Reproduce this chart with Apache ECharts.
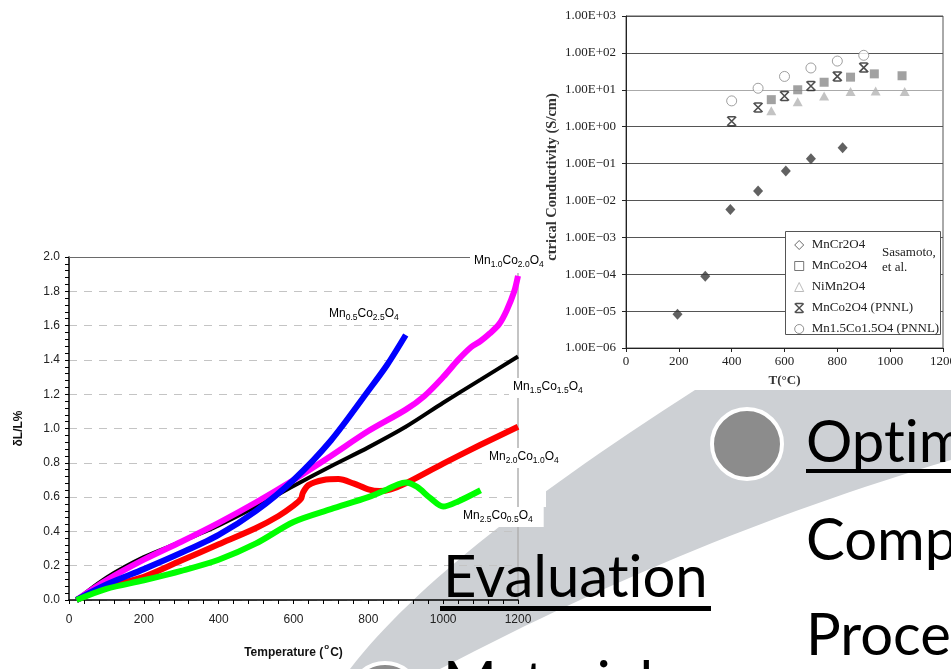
<!DOCTYPE html>
<html>
<head>
<meta charset="utf-8">
<script src="https://cdn.jsdelivr.net/npm/echarts@6/dist/echarts.min.js"></script>
<style>
  html, body { margin: 0; padding: 0; background: #fff; }
  #main { width: 951px; height: 669px; }
</style>
</head>
<body>
<div id="main"></div>
<script>
// left chart: thermal expansion dL/L (%) against temperature
const tBlack = [20, 100, 200, 300, 400, 500, 600, 700, 800, 900, 1000, 1100, 1200];
const vBlack = [0, 0.13, 0.25, 0.34, 0.435, 0.545, 0.665, 0.78, 0.89, 1.01, 1.15, 1.285, 1.42];

const tMagenta = [20, 100, 200, 300, 400, 500, 600, 700, 800, 900, 950, 1000, 1040, 1075, 1100, 1125, 1150, 1170, 1190, 1200];
const vMagenta = [0, 0.115, 0.235, 0.34, 0.45, 0.57, 0.70, 0.84, 0.985, 1.11, 1.19, 1.30, 1.40, 1.475, 1.51, 1.555, 1.61, 1.69, 1.80, 1.89];

const tBlue = [20, 100, 200, 300, 400, 500, 600, 700, 800, 850, 900];
const vBlue = [0, 0.09, 0.18, 0.275, 0.38, 0.52, 0.70, 0.93, 1.22, 1.37, 1.545];

const tRed = [20, 100, 200, 300, 400, 500, 560, 600, 620, 625, 640, 680, 720, 760, 800, 830, 860, 900, 1000, 1100, 1200];
const vRed = [0, 0.075, 0.135, 0.23, 0.325, 0.42, 0.49, 0.55, 0.59, 0.625, 0.67, 0.70, 0.705, 0.68, 0.645, 0.635, 0.645, 0.68, 0.795, 0.905, 1.01];

const tGreen = [20, 100, 200, 300, 400, 500, 600, 700, 800, 850, 880, 900, 930, 965, 1000, 1040, 1100];
const vGreen = [0, 0.065, 0.115, 0.17, 0.235, 0.33, 0.455, 0.53, 0.60, 0.645, 0.675, 0.685, 0.66, 0.595, 0.545, 0.575, 0.64];

// right chart: electrical conductivity (S/cm), log scale
const tMnCr = [195, 300, 395, 500, 605, 700, 820];
const sMnCr = [8.2e-6, 8.8e-5, 5.7e-3, 0.018, 0.063, 0.136, 0.27];
const tMnCo = [550, 650, 750, 850, 940, 1045];
const sMnCo = [5.4, 10, 16, 22, 27, 24];
const tNiMn = [550, 650, 750, 850, 945, 1055];
const sNiMn = [2.7, 4.7, 6.8, 9.0, 9.2, 9.0];
const tMnCoP = [400, 500, 600, 700, 800, 900];
const sMnCoP = [1.4, 3.3, 6.8, 12.7, 23, 40];
const tMn15 = [400, 500, 600, 700, 800, 900];
const sMn15 = [5.0, 11, 23, 39, 60, 86];

const sans = 'Liberation Sans, Arial, sans-serif';
const serif = 'Liberation Serif, Times New Roman, serif';
const slide = 'Lato, Carlito, sans-serif';
const starPath = 'path://M0,0L10,10M10,0L0,10M1,0L9,0M1,10L9,10';
const ZWNJ = '\u200C'; // keeps Lato from joining "ti"

function pairs(xs, ys) {
  return xs.map((x, i) => [x, ys[i]]);
}

// gray arc band behind the charts (quadratic edges)
function quad(p0, c, p2, n) {
  const pts = [];
  for (let i = 0; i <= n; i++) {
    const t = i / n, u = 1 - t;
    pts.push([u * u * p0[0] + 2 * u * t * c[0] + t * t * p2[0],
              u * u * p0[1] + 2 * u * t * c[1] + t * t * p2[1]]);
  }
  return pts;
}
const bandPts = [[695, 390], [951, 390]]
  .concat(quad([951, 460], [694.5, 535.5], [440, 669], 30))
  .concat([[440, 672], [350, 672]])
  .concat(quad([350, 669], [437.5, 554.5], [695, 390], 30));

const richFormula = {
  m: { fontFamily: sans, fontSize: 12, lineHeight: 14, verticalAlign: 'top', color: '#222' },
  s: { fontFamily: sans, fontSize: 8.5, lineHeight: 8, verticalAlign: 'bottom', padding: [8, 0, 0, 0], color: '#222' }
};
function formula(x, y, text, pad) {
  return {
    type: 'text', x: x, y: y, z: 50,
    style: {
      text: text, rich: richFormula, verticalAlign: 'middle',
      backgroundColor: '#fff', padding: pad || [3, 4, 3, 4]
    }
  };
}
function slideText(x, y, text) {
  return {
    type: 'text', x: x, y: y, z: 100,
    style: { text: text, fontFamily: slide, fontSize: 58, fill: '#000', verticalAlign: 'middle' }
  };
}

const lineSeries = (name, xs, ys, color, width) => ({
  name: name, type: 'line', xAxisIndex: 0, yAxisIndex: 0,
  data: pairs(xs, ys), showSymbol: false, smooth: 0.3,
  lineStyle: { color: color, width: width }, itemStyle: { color: color },
  silent: true
});

const chart = echarts.init(document.getElementById('main'));
chart.setOption({
  animation: false,
  backgroundColor: '#fff',
  grid: [
    { left: 69, right: 433, top: 257, bottom: 69, outerBoundsMode: 'none' },
    { left: 626, right: 8, top: 16, bottom: 321, show: true, borderColor: '#555', borderWidth: 1, outerBoundsMode: 'none' }
  ],
  xAxis: [
    {
      gridIndex: 0, type: 'value', min: 0, max: 1200, interval: 200,
      name: '{a|Temperature (}{o|o}{a|C)}', nameLocation: 'middle', nameGap: 43, nameMoveOverlap: false,
      nameTextStyle: {
        rich: {
          a: { fontFamily: sans, fontSize: 12, fontWeight: 'bold', lineHeight: 16, verticalAlign: 'bottom', color: '#111' },
          o: { fontFamily: sans, fontSize: 8, fontWeight: 'bold', lineHeight: 8, verticalAlign: 'top', padding: [0, 1, 8, 1], color: '#111' }
        }
      },
      axisLine: { onZero: false, lineStyle: { color: '#000', width: 1.5 } },
      axisTick: { show: true, length: 4, lineStyle: { color: '#000' } },
      minorTick: { show: true, splitNumber: 5, length: 4, lineStyle: { color: '#000' } },
      axisLabel: { margin: 14, fontFamily: sans, fontSize: 12, color: '#222', formatter: v => String(v) },
      splitLine: { show: false }
    },
    {
      gridIndex: 0, type: 'value', position: 'top', min: 0, max: 1200,
      axisLine: { show: true, onZero: false, lineStyle: { color: '#6a6a6a', width: 1 } },
      axisTick: { show: false }, axisLabel: { show: false }, splitLine: { show: false }
    },
    {
      gridIndex: 1, type: 'value', min: 0, max: 1200, interval: 200,
      name: 'T(°C)', nameLocation: 'middle', nameGap: 26, nameMoveOverlap: false,
      nameTextStyle: { fontFamily: serif, fontSize: 13, fontWeight: 'bold', color: '#333' },
      axisLine: { onZero: false, lineStyle: { color: '#222', width: 1 } },
      axisTick: { show: true, length: 4, lineStyle: { color: '#222' } },
      axisLabel: { margin: 7, fontFamily: serif, fontSize: 13, color: '#222', formatter: v => String(v) },
      splitLine: { show: false }
    }
  ],
  yAxis: [
    {
      gridIndex: 0, type: 'value', min: 0, max: 2, interval: 0.2,
      name: 'δL/L%', nameLocation: 'middle', nameGap: 44, nameMoveOverlap: false,
      nameTextStyle: { fontFamily: sans, fontSize: 12, fontWeight: 'bold', color: '#111' },
      axisLine: { show: true, onZero: false, lineStyle: { color: '#000', width: 1.5 } },
      axisTick: { show: true, length: 4, lineStyle: { color: '#000' } },
      minorTick: { show: true, splitNumber: 5, length: 4, lineStyle: { color: '#000' } },
      axisLabel: { margin: 9, fontFamily: sans, fontSize: 12, color: '#222', formatter: v => v.toFixed(1) },
      splitLine: { show: true, lineStyle: { color: '#c4c4c4', type: [8, 7], width: 1 } }
    },
    {
      gridIndex: 0, type: 'value', position: 'right', min: 0, max: 2,
      axisLine: { show: true, onZero: false, lineStyle: { color: '#b0b0b0', width: 1.5 } },
      axisTick: { show: false }, axisLabel: { show: false }, splitLine: { show: false }
    },
    {
      gridIndex: 1, type: 'log', logBase: 10, min: 1e-6, max: 1e3, splitNumber: 9,
      axisLine: { show: true, onZero: false, lineStyle: { color: '#222', width: 1 } },
      axisTick: { show: true, length: 4, lineStyle: { color: '#222' } },
      axisLabel: {
        margin: 10, fontFamily: serif, fontSize: 13, color: '#222',
        formatter: v => {
          const e = Math.round(Math.log10(v));
          return '1.00E' + (e < 0 ? '−' : '+') + String(Math.abs(e)).padStart(2, '0');
        }
      },
      splitLine: {
        show: true,
        lineStyle: { width: 1, color: ['#555', '#555', '#555', '#555', '#555', '#555', '#555', '#aaa', '#555', '#555'] }
      }
    }
  ],
  legend: {
    orient: 'vertical', left: 789, top: 233, itemWidth: 9, itemHeight: 9, itemGap: 7,
    selectedMode: false, z: 20,
    textStyle: { fontFamily: serif, fontSize: 13, lineHeight: 14, color: '#222', padding: [0, 0, 0, 3] },
    data: [
      { name: 'MnCr2O4', icon: 'diamond', itemStyle: { color: '#fff', borderColor: '#444', borderWidth: 1 } },
      { name: 'MnCo2O4', icon: 'rect', itemStyle: { color: '#fff', borderColor: '#555', borderWidth: 1 } },
      { name: 'NiMn2O4', icon: 'triangle', itemStyle: { color: '#fff', borderColor: '#aaa', borderWidth: 1 } },
      { name: 'MnCo2O4 (PNNL)', icon: starPath, itemStyle: { color: '#222', borderColor: '#222', borderWidth: 1.4 } },
      { name: 'Mn1.5Co1.5O4 (PNNL)', icon: 'circle', itemStyle: { color: '#fff', borderColor: '#777', borderWidth: 1 } }
    ]
  },
  series: [
    lineSeries('Mn1.5Co1.5O4', tBlack, vBlack, '#000000', 4),
    lineSeries('Mn1.0Co2.0O4', tMagenta, vMagenta, '#ff00ff', 6),
    lineSeries('Mn2.0Co1.0O4', tRed, vRed, '#ff0000', 6),
    lineSeries('Mn0.5Co2.5O4', tBlue, vBlue, '#0000ff', 6),
    lineSeries('Mn2.5Co0.5O4', tGreen, vGreen, '#00ff00', 6),
    {
      name: 'MnCr2O4', type: 'scatter', xAxisIndex: 2, yAxisIndex: 2, data: pairs(tMnCr, sMnCr),
      symbol: 'diamond', symbolSize: [10, 11], itemStyle: { color: '#3a3a3a' }
    },
    {
      name: 'MnCo2O4', type: 'scatter', xAxisIndex: 2, yAxisIndex: 2, data: pairs(tMnCo, sMnCo),
      symbol: 'rect', symbolSize: 9, itemStyle: { color: '#8a8a8a' }
    },
    {
      name: 'NiMn2O4', type: 'scatter', xAxisIndex: 2, yAxisIndex: 2, data: pairs(tNiMn, sNiMn),
      symbol: 'triangle', symbolSize: [10, 9], itemStyle: { color: '#b4b4b4' }
    },
    {
      name: 'MnCo2O4 (PNNL)', type: 'scatter', xAxisIndex: 2, yAxisIndex: 2, data: pairs(tMnCoP, sMnCoP),
      symbol: starPath, symbolSize: 9, itemStyle: { color: '#222', borderColor: '#222', borderWidth: 1.6 }
    },
    {
      name: 'Mn1.5Co1.5O4 (PNNL)', type: 'scatter', xAxisIndex: 2, yAxisIndex: 2, data: pairs(tMn15, sMn15),
      symbol: 'circle', symbolSize: 10, itemStyle: { color: '#fff', borderColor: '#888', borderWidth: 1 }
    }
  ],
  graphic: [
    { type: 'polygon', z: -1, silent: true, shape: { points: bandPts }, style: { fill: '#cdd0d4' } },
    { type: 'circle', z: 60, shape: { cx: 747, cy: 444, r: 35 }, style: { fill: '#8c8c8c', stroke: '#fff', lineWidth: 4 } },
    { type: 'circle', z: 60, shape: { cx: 385, cy: 698, r: 35 }, style: { fill: '#8c8c8c', stroke: '#fff', lineWidth: 4 } },
    slideText(806, 443, 'Opt' + ZWNJ + 'im'),
    { type: 'rect', z: 100, shape: { x: 806, y: 469, width: 150, height: 4 }, style: { fill: '#000' } },
    slideText(806, 541, 'Comp'),
    slideText(806, 636, 'Proce'),
    slideText(443, 578, 'Evaluat' + ZWNJ + 'ion'),
    { type: 'rect', z: 100, shape: { x: 440, y: 606, width: 271, height: 5 }, style: { fill: '#000' } },
    slideText(443, 684, 'Materials'),
    // white patch right of the left plot
    { type: 'rect', z: 40, shape: { x: 520, y: 440, width: 26, height: 67 }, style: { fill: '#fff' } },
    formula(470, 262, '{m|Mn}{s|1.0}{m|Co}{s|2.0}{m|O}{s|4}', [4, 5, 4, 4]),
    formula(325, 315, '{m|Mn}{s|0.5}{m|Co}{s|2.5}{m|O}{s|4}'),
    formula(509, 388, '{m|Mn}{s|1.5}{m|Co}{s|1.5}{m|O}{s|4}'),
    formula(485, 458, '{m|Mn}{s|2.0}{m|Co}{s|1.0}{m|O}{s|4}'),
    formula(458, 517, '{m|Mn}{s|2.5}{m|Co}{s|0.5}{m|O}{s|4}', [3, 11, 3, 5]),
    // right chart legend frame and note
    { type: 'rect', z: 10, shape: { x: 785.5, y: 231.5, width: 155, height: 103 }, style: { fill: '#fff', stroke: '#555', lineWidth: 1 } },
    { type: 'text', z: 20, x: 882, y: 253, style: { text: 'Sasamoto,', fontFamily: serif, fontSize: 13, fill: '#222', verticalAlign: 'middle' } },
    { type: 'text', z: 20, x: 882, y: 268, style: { text: 'et al.', fontFamily: serif, fontSize: 13, fill: '#222', verticalAlign: 'middle' } },
    {
      type: 'text', z: 20, x: 552, y: 177, rotation: Math.PI / 2,
      style: { text: 'ctrical Conductivity (S/cm)', fontFamily: serif, fontSize: 14.5, fontWeight: 'bold', fill: '#333', align: 'center', verticalAlign: 'middle' }
    }
  ]
});
</script>
</body>
</html>
